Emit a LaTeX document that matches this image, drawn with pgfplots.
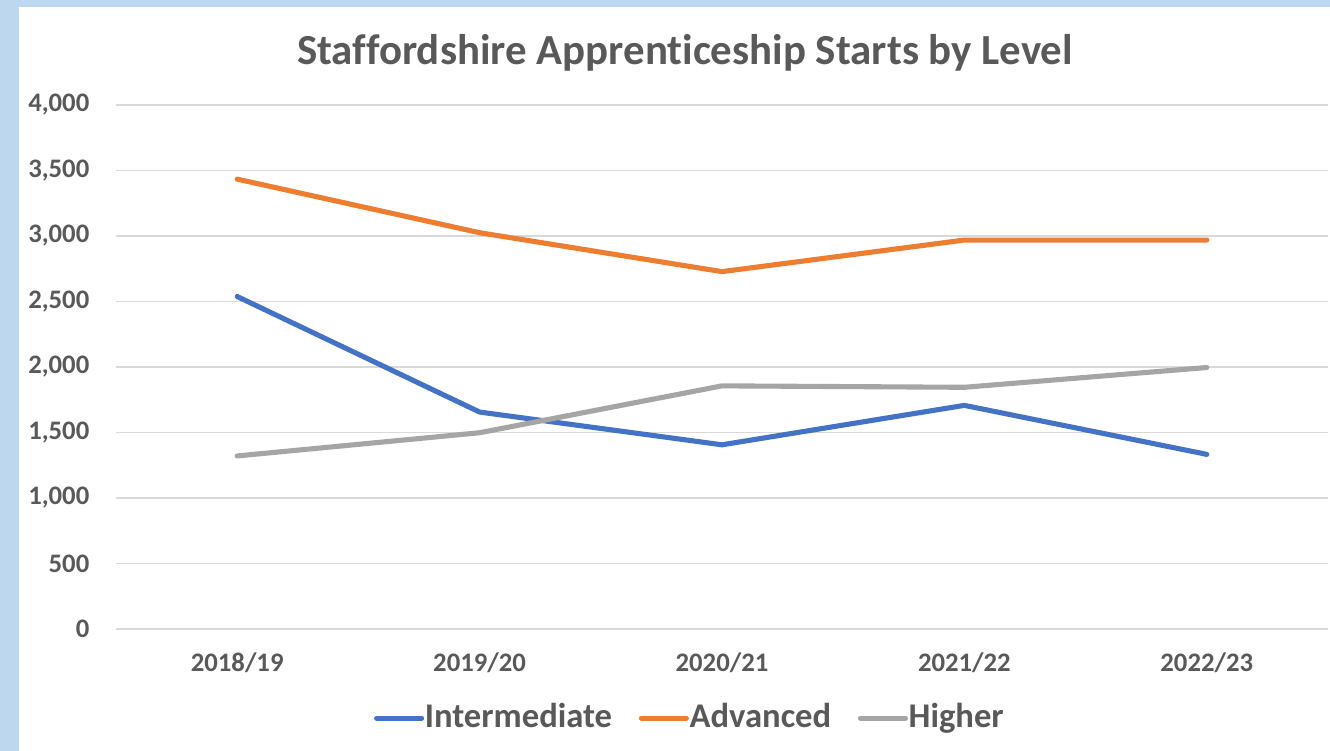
\documentclass[border=0pt]{standalone}
\usepackage{pgfplots}
\pgfplotsset{compat=1.18}
\usepackage{fontspec}
\setmainfont{Carlito}[Ligatures=NoCommon]
\definecolor{txtgray}{HTML}{595959}
\definecolor{gridgray}{HTML}{D9D9D9}
\definecolor{bgblue}{HTML}{BDD7EE}
\definecolor{cInt}{HTML}{4472C4}
\definecolor{cAdv}{HTML}{ED7D31}
\definecolor{cHig}{HTML}{A5A5A5}

\begin{document}
\begin{tikzpicture}
% light blue frame behind the white chart area
\fill[bgblue] (0,0) rectangle (13.30,7.51);
\fill[white] (0.19,0) rectangle (13.30,7.44);
\useasboundingbox (0,0) rectangle (13.30,7.51);

\begin{axis}[
    at={(1.16cm,1.22cm)}, anchor=south west,
    scale only axis,
    width=12.12cm, height=5.24cm,
    xmin=-0.5, xmax=4.5,
    ymin=0, ymax=4000,
    xtick={0,1,2,3,4},
    xticklabels={2018/19,2019/20,2020/21,2021/22,2022/23},
    ytick={0,500,...,4000},
    axis line style={draw=none},
    major tick length=0pt,
    ymajorgrids,
    grid style={gridgray, line width=0.55pt},
    /pgf/number format/.cd, 1000 sep={,}, assume math mode=true,
    /pgfplots/.cd,
    ticklabel style={text=txtgray, font=\bfseries\fontsize{7.6}{9}\selectfont},
    yticklabel style={anchor=east, inner sep=0pt, xshift=-0.26cm},
    xticklabel style={anchor=base, inner sep=0pt, yshift=-0.43cm},
    every axis plot/.append style={line width=1.45pt, line cap=round, line join=round},
    legend columns=3,
    legend style={at={(0.473,-0.17)}, anchor=center, draw=none, fill=none,
        font=\bfseries\fontsize{9.85}{11}\selectfont, text=txtgray,
        nodes={inner xsep=0.2pt},
        /tikz/every even column/.append style={column sep=0.26cm}},
    legend image code/.code={\draw[#1] (0cm,0cm) -- (0.45cm,0cm);},
]
\addplot[cInt] coordinates {(0,2538) (1,1656) (2,1406) (3,1707) (4,1333)};
\addlegendentry{Intermediate}
\addplot[cAdv] coordinates {(0,3434) (1,3025) (2,2728) (3,2969) (4,2969)};
\addlegendentry{Advanced}
\addplot[cHig] coordinates {(0,1321) (1,1498) (2,1856) (3,1845) (4,1996)};
\addlegendentry{Higher}
\end{axis}

\node[anchor=base, text=txtgray, font=\bfseries\fontsize{12.2}{14}\selectfont]
    at (6.85,6.86) {Staffordshire Apprenticeship Starts by Level};
\end{tikzpicture}
\end{document}
